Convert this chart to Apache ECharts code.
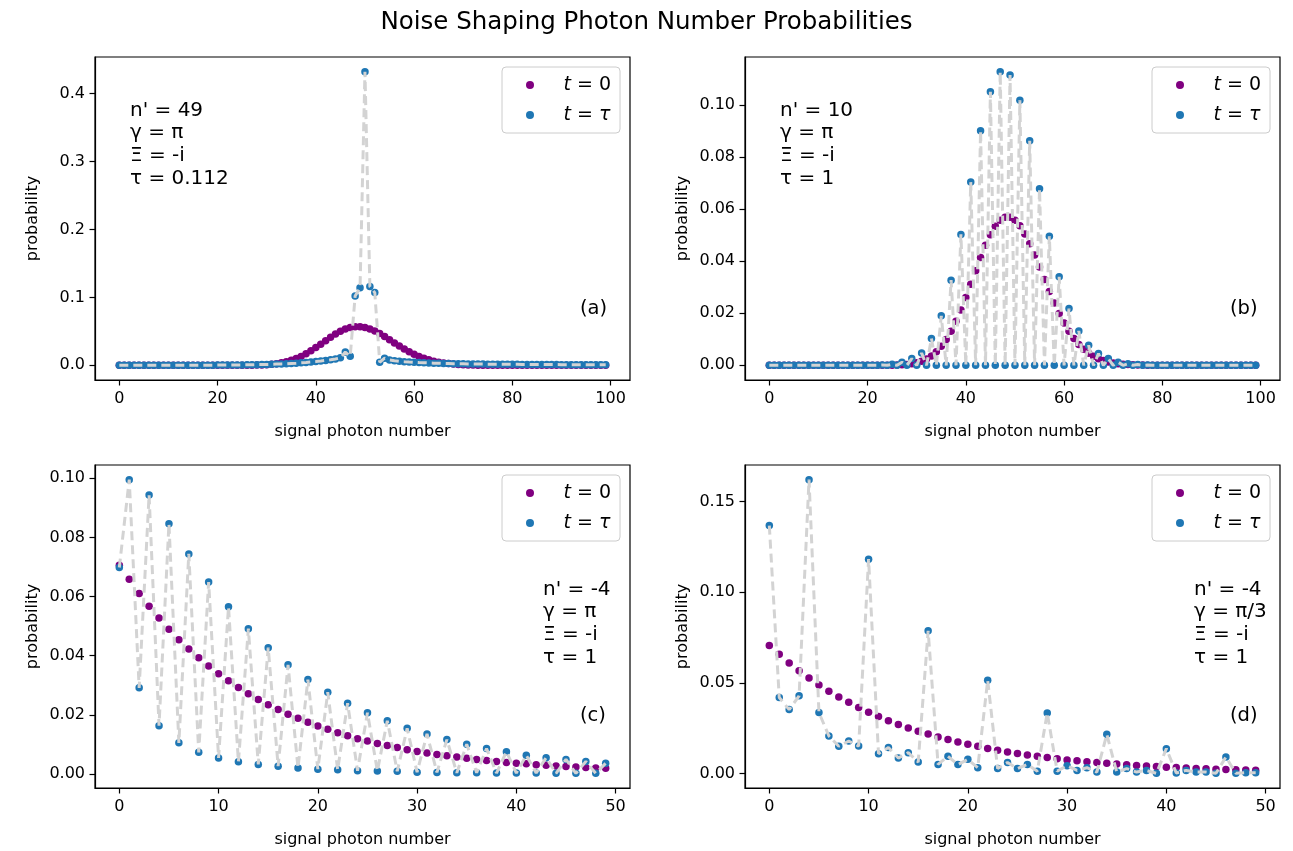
<!DOCTYPE html>
<html>
<head>
<meta charset="utf-8">
<title>Noise Shaping Photon Number Probabilities</title>
<script src="https://cdn.jsdelivr.net/npm/echarts@6.0.0/dist/echarts.min.js"></script>
<style>
  html, body { margin: 0; padding: 0; background: #fff; }
  #chart { width: 1293px; height: 851px; }
</style>
</head>
<body>
<div id="chart"></div>
<script>
// probabilities, index = signal photon number

// panels (a), (b): t = 0, n = 0..99
const probT0Coherent = [
  0, 0, 0, 0, 0, 0, 0, 0, 0, 0,
  0, 0, 0, 0, 0, 0, 0, 0, 0, 0,
  0, 0, 0.00001, 0.00002, 0.00003, 0.00006, 0.00012, 0.00021, 0.00036, 0.00061,
  0.00100, 0.00159, 0.00243, 0.00361, 0.00520, 0.00728, 0.00991, 0.01313, 0.01693, 0.02127,
  0.02605, 0.03113, 0.03632, 0.04139, 0.04609, 0.05019, 0.05346, 0.05574, 0.05690, 0.05690,
  0.05576, 0.05357, 0.05048, 0.04667, 0.04235, 0.03773, 0.03301, 0.02838, 0.02398, 0.01991,
  0.01626, 0.01306, 0.01032, 0.00803, 0.00615, 0.00463, 0.00344, 0.00252, 0.00181, 0.00129,
  0.00090, 0.00062, 0.00042, 0.00028, 0.00019, 0.00012, 0.00008, 0.00005, 0.00003, 0.00002,
  0.00001, 0, 0, 0, 0, 0, 0, 0, 0, 0,
  0, 0, 0, 0, 0, 0, 0, 0, 0, 0
];

// panel (a): t = tau
const probTauA = [
  0.0002, 0.0002, 0.0002, 0.0002, 0.0002, 0.0002, 0.0002, 0.0002, 0.0002, 0.0002,
  0.0002, 0.0002, 0.0002, 0.0002, 0.0002, 0.0002, 0.0002, 0.0002, 0.0002, 0.0002,
  0.0003, 0.0003, 0.0004, 0.0004, 0.0005, 0.0006, 0.0007, 0.0008, 0.0010, 0.0011,
  0.0013, 0.0015, 0.0018, 0.0021, 0.0024, 0.0028, 0.0032, 0.0037, 0.0042, 0.0048,
  0.0055, 0.0063, 0.0072, 0.0082, 0.0094, 0.0110, 0.0195, 0.0135, 0.1020, 0.1140,
  0.4320, 0.1160, 0.1070, 0.0045, 0.0105, 0.0080, 0.0068, 0.0060, 0.0054, 0.0049,
  0.0045, 0.0041, 0.0038, 0.0035, 0.0032, 0.0030, 0.0028, 0.0026, 0.0024, 0.0023,
  0.0022, 0.0021, 0.0020, 0.0019, 0.0018, 0.0017, 0.0016, 0.0016, 0.0015, 0.0015,
  0.0014, 0.0014, 0.0013, 0.0013, 0.0012, 0.0012, 0.0012, 0.0011, 0.0011, 0.0011,
  0.0010, 0.0010, 0.0010, 0.0010, 0.0010, 0.0009, 0.0009, 0.0009, 0.0009, 0.0009
];

// panel (b): t = tau
const probTauB = [
  0, 0, 0, 0, 0, 0, 0, 0, 0, 0,
  0, 0, 0, 0, 0, 0, 0, 0, 0, 0,
  0, 0, 0, 0.0001, 0, 0.0004, 0, 0.0012, 0, 0.0026,
  0, 0.0047, 0, 0.0103, 0, 0.0190, 0, 0.0327, 0, 0.0503,
  0, 0.0704, 0, 0.0901, 0, 0.1051, 0, 0.1128, 0, 0.1115,
  0, 0.1018, 0, 0.0863, 0, 0.0678, 0, 0.0496, 0, 0.0340,
  0, 0.0218, 0, 0.0132, 0, 0.0077, 0, 0.0045, 0, 0.0026,
  0, 0.0012, 0, 0.0006, 0, 0.0003, 0, 0.0001, 0, 0,
  0, 0, 0, 0, 0, 0, 0, 0, 0, 0,
  0, 0, 0, 0, 0, 0, 0, 0, 0, 0
];

// panels (c), (d): t = 0, n = 0..49
const probT0Thermal = [
  0.0706, 0.0658, 0.0610, 0.0567, 0.0527, 0.0489, 0.0454, 0.0422, 0.0393, 0.0365,
  0.0339, 0.0315, 0.0292, 0.0271, 0.0252, 0.0234, 0.0218, 0.0202, 0.0188, 0.0175,
  0.0162, 0.0151, 0.0139, 0.0129, 0.0119, 0.0111, 0.0103, 0.0096, 0.0089, 0.0082,
  0.0076, 0.0071, 0.0066, 0.0061, 0.0057, 0.0053, 0.0049, 0.0045, 0.0042, 0.0039,
  0.0036, 0.0034, 0.0031, 0.0029, 0.0027, 0.0025, 0.0023, 0.0022, 0.0020, 0.0019
];

// panel (c): t = tau
const probTauC = [
  0.0698, 0.0995, 0.0291, 0.0943, 0.0163, 0.0846, 0.0105, 0.0744, 0.0073, 0.0649,
  0.0054, 0.0565, 0.0041, 0.0491, 0.0032, 0.0427, 0.0026, 0.0369, 0.0020, 0.0319,
  0.0016, 0.0276, 0.0014, 0.0239, 0.0011, 0.0207, 0.0010, 0.0180, 0.0009, 0.0154,
  0.0006, 0.0135, 0.0005, 0.0116, 0.0004, 0.0100, 0.0004, 0.0086, 0.0003, 0.0075,
  0.0003, 0.0063, 0.0003, 0.0055, 0.0002, 0.0049, 0.0002, 0.0042, 0.0002, 0.0036
];

// panel (d): t = tau
const probTauD = [
  0.1367, 0.0420, 0.0353, 0.0429, 0.1620, 0.0337, 0.0208, 0.0151, 0.0180, 0.0152,
  0.1182, 0.0110, 0.0144, 0.0086, 0.0116, 0.0064, 0.0787, 0.0051, 0.0096, 0.0050,
  0.0079, 0.0033, 0.0515, 0.0028, 0.0062, 0.0028, 0.0051, 0.0014, 0.0335, 0.0014,
  0.0044, 0.0018, 0.0033, 0.0009, 0.0217, 0.0009, 0.0028, 0.0009, 0.0018, 0.0002,
  0.0138, 0.0004, 0.0018, 0.0009, 0.0009, 0.0002, 0.0092, 0.0002, 0.0005, 0.0005
];

const xTicksAB = [0, 20, 40, 60, 80, 100];
const xTicksCD = [0, 10, 20, 30, 40, 50];
const yTicksA = [0, 0.1, 0.2, 0.3, 0.4];
const yTicksB = [0, 0.02, 0.04, 0.06, 0.08, 0.10];
const yTicksC = [0, 0.02, 0.04, 0.06, 0.08, 0.10];
const yTicksD = [0, 0.05, 0.10, 0.15];

const seriesNames = ['t = 0', 't = τ'];
const notes = [
  "n' = 49\nγ = π\nΞ = -i\nτ = 0.112",
  "n' = 10\nγ = π\nΞ = -i\nτ = 1",
  "n' = -4\nγ = π\nΞ = -i\nτ = 1",
  "n' = -4\nγ = π/3\nΞ = -i\nτ = 1"
];
const tags = ['(a)', '(b)', '(c)', '(d)'];

const FONT = 'DejaVu Sans';
const PURPLE = '#800080';
const BLUE = '#1f77b4';

const panels = [
  { t0: probT0Coherent, tau: probTauA, xTicks: xTicksAB, yTicks: yTicksA, digits: 1,
    grid: { left: 95, top: 57 }, note: [130, 99], tag: [580, 298] },
  { t0: probT0Coherent, tau: probTauB, xTicks: xTicksAB, yTicks: yTicksB, digits: 2,
    grid: { left: 745, top: 57 }, note: [780, 99], tag: [1230, 298] },
  { t0: probT0Thermal, tau: probTauC, xTicks: xTicksCD, yTicks: yTicksC, digits: 2,
    grid: { left: 95, top: 465 }, note: [543, 578], tag: [580, 705] },
  { t0: probT0Thermal, tau: probTauD, xTicks: xTicksCD, yTicks: yTicksD, digits: 2,
    grid: { left: 745, top: 465 }, note: [1194, 578], tag: [1230, 705] }
];

const GRID_W = 535, GRID_H = 323;

function pairs(arr) {
    return arr.map((v, n) => [n, v]);
}

// matplotlib-style 5% margins
function padRange(lo, hi) {
    const p = (hi - lo) * 0.05;
    return [lo - p, hi + p];
}

const grids = [], xAxes = [], yAxes = [], series = [], legends = [], graphics = [];

panels.forEach((p, i) => {
    grids.push({
        left: p.grid.left, top: p.grid.top, width: GRID_W, height: GRID_H,
        show: true, borderColor: '#000', borderWidth: 1.2, backgroundColor: '#fff'
    });

    const xr = padRange(0, p.t0.length - 1);
    const all = p.t0.concat(p.tau);
    const yr = padRange(Math.min(...all), Math.max(...all));

    xAxes.push({
        gridIndex: i, type: 'value', min: xr[0], max: xr[1],
        name: 'signal photon number', nameLocation: 'middle', nameGap: 44,
        nameTextStyle: { fontFamily: FONT, fontSize: 16, color: '#000' },
        axisLine: { show: true, onZero: false, lineStyle: { color: '#000', width: 1.2 } },
        axisTick: { show: true, length: 5.5, customValues: p.xTicks, lineStyle: { color: '#000', width: 1.2 } },
        axisLabel: { customValues: p.xTicks, margin: 11, fontFamily: FONT, fontSize: 16, color: '#000' },
        splitLine: { show: false }
    });

    yAxes.push({
        gridIndex: i, type: 'value', min: yr[0], max: yr[1],
        name: 'probability', nameLocation: 'middle', nameGap: 54,
        nameTextStyle: { fontFamily: FONT, fontSize: 16, color: '#000' },
        axisLine: { show: true, onZero: false, lineStyle: { color: '#000', width: 1.2 } },
        axisTick: { show: true, length: 5.5, customValues: p.yTicks, lineStyle: { color: '#000', width: 1.2 } },
        axisLabel: {
            customValues: p.yTicks, margin: 10, fontFamily: FONT, fontSize: 16, color: '#000',
            formatter: v => v.toFixed(p.digits)
        },
        splitLine: { show: false }
    });

    series.push({
        name: seriesNames[0], type: 'scatter', xAxisIndex: i, yAxisIndex: i,
        data: pairs(p.t0), symbolSize: 7.5, itemStyle: { color: PURPLE, opacity: 1 }, z: 2
    });
    series.push({
        name: seriesNames[1], type: 'scatter', xAxisIndex: i, yAxisIndex: i,
        data: pairs(p.tau), symbolSize: 7.5, itemStyle: { color: BLUE, opacity: 1 }, z: 3
    });
    // light gray dashed guide through the t = tau points
    series.push({
        name: 'guide', type: 'line', xAxisIndex: i, yAxisIndex: i,
        data: pairs(p.tau), symbol: 'none', silent: true,
        lineStyle: { color: '#d3d3d3', width: 3, type: [9, 5] }, z: 4
    });

    legends.push({
        data: seriesNames, orient: 'vertical', icon: 'circle',
        left: p.grid.left + GRID_W - 128, top: p.grid.top + 10,
        itemWidth: 57, itemHeight: 8, itemGap: 8,
        padding: [7, 9, 7, 24],
        backgroundColor: 'rgba(255,255,255,0.8)',
        borderColor: '#cccccc', borderWidth: 1, borderRadius: 4,
        selectedMode: false,
        formatter: name => name === 't = 0' ? '{i|t}{r| = 0}' : '{i|t}{r| = }{i|τ}',
        textStyle: {
            fontFamily: FONT, fontSize: 19, lineHeight: 22, color: '#000',
            rich: {
                i: { fontFamily: FONT, fontSize: 19, fontStyle: 'italic', color: '#000' },
                r: { fontFamily: FONT, fontSize: 19, color: '#000' }
            }
        }
    });

    graphics.push({
        type: 'text', left: p.note[0], top: p.note[1], z: 100,
        style: { text: notes[i], fontFamily: FONT, fontSize: 20, lineHeight: 22.7, fill: '#000' }
    });
    graphics.push({
        type: 'text', left: p.tag[0], top: p.tag[1], z: 100,
        style: { text: tags[i], fontFamily: FONT, fontSize: 19.5, lineHeight: 22.7, fill: '#000' }
    });
});

const chart = echarts.init(document.getElementById('chart'));
chart.setOption({
    animation: false,
    backgroundColor: '#fff',
    title: {
        text: 'Noise Shaping Photon Number Probabilities',
        left: 'center', top: 5,
        textStyle: { fontFamily: FONT, fontSize: 24.5, fontWeight: 'normal', color: '#000' }
    },
    grid: grids,
    xAxis: xAxes,
    yAxis: yAxes,
    legend: legends,
    series: series,
    graphic: graphics
});
</script>
</body>
</html>
